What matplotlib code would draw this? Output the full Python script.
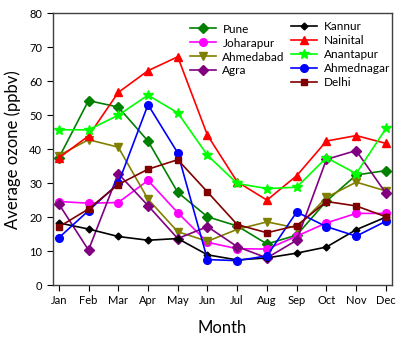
import matplotlib
matplotlib.use("Agg")
import matplotlib.pyplot as plt

plt.rcParams['font.family'] = ['Lato', 'DejaVu Sans']

months = ["Jan", "Feb", "Mar", "Apr", "May", "Jun",
          "Jul", "Aug", "Sep", "Oct", "Nov", "Dec"]

pune = [37.4, 54.3, 52.4, 42.4, 27.3, 20.1, 17.4, 12.1, 14.7, 24.7, 32.4, 33.7]
joharapur = [24.6, 24.1, 24.3, 30.8, 21.3, 12.6, 10.7, 10.6, 14.4, 18.3, 21.1, 21.1]
ahmedabad = [38.1, 42.8, 40.6, 25.3, 15.7, 12.9, 16.4, 18.6, 16.8, 25.8, 30.3, 27.7]
agra = [23.9, 10.3, 32.8, 23.4, 13.7, 17.2, 11.3, 8.0, 13.2, 37.0, 39.6, 27.0]
kannur = [18.3, 16.5, 14.3, 13.2, 13.7, 8.9, 7.4, 8.0, 9.4, 11.2, 16.3, 20.0]
nainital = [37.4, 43.9, 56.7, 63.1, 67.2, 44.1, 30.4, 25.0, 32.2, 42.4, 44.0, 41.7]
anantapur = [45.7, 45.7, 50.0, 55.9, 50.7, 38.2, 29.9, 28.4, 28.8, 37.5, 32.8, 46.1]
ahmednagar = [13.9, 21.9, 29.9, 53.1, 38.9, 7.5, 7.2, 8.6, 21.5, 17.2, 14.4, 18.8]
delhi = [17.1, 22.4, 29.6, 34.1, 36.9, 27.4, 17.8, 15.4, 17.5, 24.6, 23.3, 20.1]

x = list(range(len(months)))

fig = plt.figure(figsize=(4.04, 3.41), dpi=100)
ax = fig.add_axes([0.130, 0.164, 0.840, 0.797])

# first group (left legend column)
h1 = []
h1 += ax.plot(x, pune, marker='D', ms=5, color='#008000', lw=1.2, label='Pune')
h1 += ax.plot(x, joharapur, marker='o', ms=5.5, color='#FF00FF', lw=1.2, label='Joharapur')
h1 += ax.plot(x, ahmedabad, marker='v', ms=5.5, color='#808000', lw=1.2, label='Ahmedabad')
h1 += ax.plot(x, agra, marker='D', ms=5, color='#800080', lw=1.2, label='Agra')

# second group (right legend column)
h2 = []
h2 += ax.plot(x, kannur, marker='D', ms=3.5, color='black', lw=1.2, label='Kannur')
h2 += ax.plot(x, nainital, marker='^', ms=5.5, color='#FF0000', lw=1.2, label='Nainital')
h2 += ax.plot(x, anantapur, marker='*', ms=7, color='#00FF00', lw=1.2, label='Anantapur')
h2 += ax.plot(x, ahmednagar, marker='o', ms=5.5, color='#0000FF', lw=1.2, label='Ahmednagar')
h2 += ax.plot(x, delhi, marker='s', ms=5, color='#800000', lw=1.2, label='Delhi')

ax.set_xlim(-0.21, 11.2)
ax.set_ylim(0, 80)
ax.set_xticks(x)
ax.set_xticklabels(months)
ax.set_yticks(range(0, 81, 10))
ax.tick_params(direction='out', labelsize=8, length=4, top=False, right=False)
for s in ax.spines.values():
    s.set_linewidth(1.0)
    s.set_color('#404040')

ax.set_xlabel("Month", fontsize=12, labelpad=10)
ax.set_ylabel("Average ozone (ppbv)", fontsize=12, labelpad=6)

leg1 = ax.legend(handles=h1, loc='upper left', bbox_to_anchor=(0.405, 0.962),
                 frameon=False, fontsize=8.5, handlelength=2.2, handletextpad=0.55,
                 labelspacing=0.25, borderpad=0, borderaxespad=0)
ax.add_artist(leg1)
ax.legend(handles=h2, loc='upper left', bbox_to_anchor=(0.703, 0.972),
          frameon=False, fontsize=8.5, handlelength=2.2, handletextpad=0.55,
          labelspacing=0.25, borderpad=0, borderaxespad=0)

fig.savefig("out.png", dpi=100)
